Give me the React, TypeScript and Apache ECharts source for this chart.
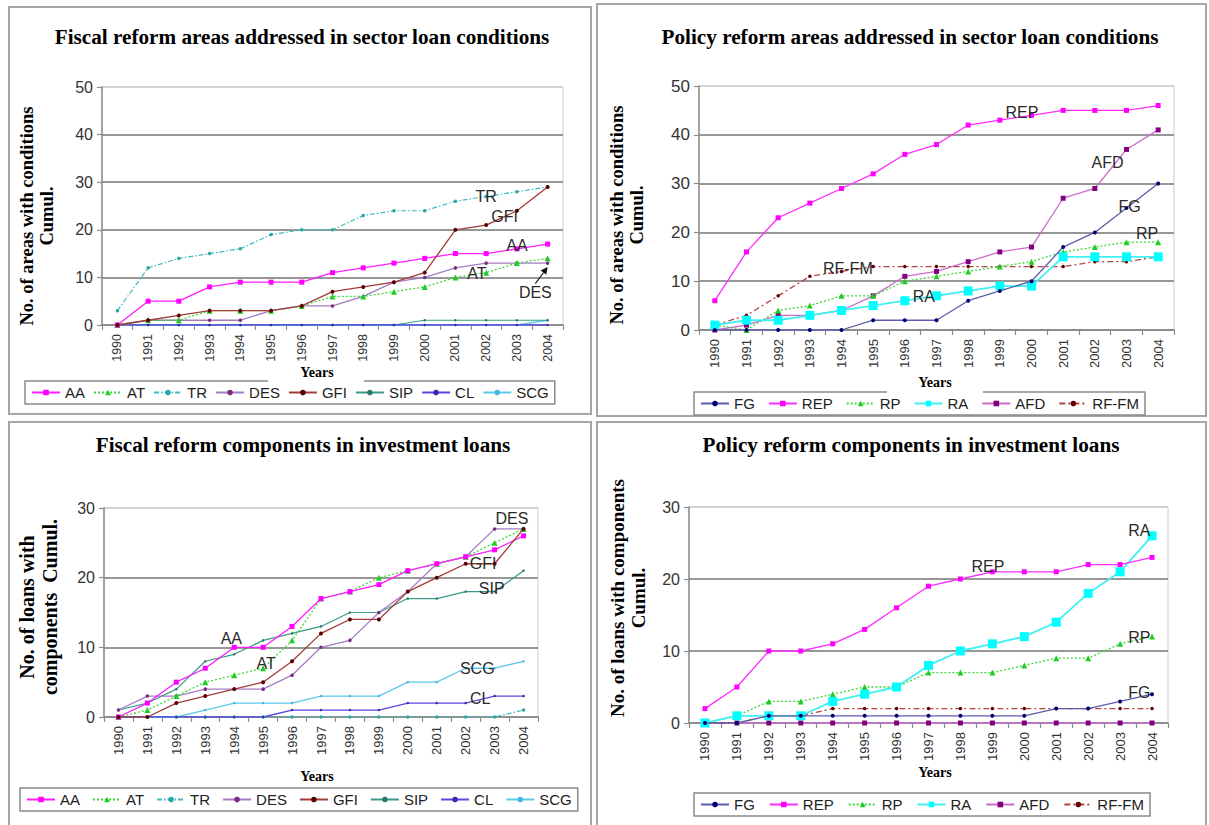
import React, { useEffect, useRef } from "react";
import * as echarts from "echarts";

const YEARS = ["1990", "1991", "1992", "1993", "1994", "1995", "1996", "1997", "1998", "1999", "2000", "2001", "2002", "2003", "2004"];

// Sector loan conditions — fiscal reform areas (cumulative counts)
const SECTOR_FISCAL_AA = [0, 5, 5, 8, 9, 9, 9, 11, 12, 13, 14, 15, 15, 16, 17];
const SECTOR_FISCAL_AT = [0, 1, 1, 3, 3, 3, 4, 6, 6, 7, 8, 10, 11, 13, 14];
const SECTOR_FISCAL_TR = [3, 12, 14, 15, 16, 19, 20, 20, 23, 24, 24, 26, 27, 28, 29];
const SECTOR_FISCAL_DES = [0, 1, 1, 1, 1, 3, 4, 4, 6, 9, 10, 12, 13, 13, 13];
const SECTOR_FISCAL_GFI = [0, 1, 2, 3, 3, 3, 4, 7, 8, 9, 11, 20, 21, 24, 29];
const SECTOR_FISCAL_SIP = [0, 0, 0, 0, 0, 0, 0, 0, 0, 0, 1, 1, 1, 1, 1];
const SECTOR_FISCAL_CL = [0, 0, 0, 0, 0, 0, 0, 0, 0, 0, 0, 0, 0, 0, 0];
const SECTOR_FISCAL_SCG = [0, 0, 0, 0, 0, 0, 0, 0, 0, 0, 0, 0, 0, 0, 1];

// Sector loan conditions — policy reform areas (cumulative counts)
const SECTOR_POLICY_FG = [0, 0, 0, 0, 0, 2, 2, 2, 6, 8, 10, 17, 20, 25, 30];
const SECTOR_POLICY_REP = [6, 16, 23, 26, 29, 32, 36, 38, 42, 43, 44, 45, 45, 45, 46];
const SECTOR_POLICY_RP = [1, 0, 4, 5, 7, 7, 10, 11, 12, 13, 14, 16, 17, 18, 18];
const SECTOR_POLICY_RA = [1, 2, 2, 3, 4, 5, 6, 7, 8, 9, 9, 15, 15, 15, 15];
const SECTOR_POLICY_AFD = [0, 1, 3, 3, 4, 7, 11, 12, 14, 16, 17, 27, 29, 37, 41];
const SECTOR_POLICY_RFFM = [1, 3, 7, 11, 12, 13, 13, 13, 13, 13, 13, 13, 14, 14, 15];

// Investment loans — fiscal reform components (cumulative counts)
const INVEST_FISCAL_AA = [0, 2, 5, 7, 10, 10, 13, 17, 18, 19, 21, 22, 23, 24, 26];
const INVEST_FISCAL_AT = [0, 1, 3, 5, 6, 7, 11, 17, 18, 20, 21, 22, 23, 25, 27];
const INVEST_FISCAL_TR = [0, 0, 0, 0, 0, 0, 0, 0, 0, 0, 0, 0, 0, 0, 1];
const INVEST_FISCAL_DES = [1, 3, 3, 4, 4, 4, 6, 10, 11, 15, 18, 22, 23, 27, 27];
const INVEST_FISCAL_GFI = [0, 0, 2, 3, 4, 5, 8, 12, 14, 14, 18, 20, 22, 22, 27];
const INVEST_FISCAL_SIP = [1, 2, 4, 8, 9, 11, 12, 13, 15, 15, 17, 17, 18, 18, 21];
const INVEST_FISCAL_CL = [0, 0, 0, 0, 0, 0, 1, 1, 1, 1, 2, 2, 2, 3, 3];
const INVEST_FISCAL_SCG = [0, 0, 0, 1, 2, 2, 2, 3, 3, 3, 5, 5, 7, 7, 8];

// Investment loans — policy reform components (cumulative counts)
const INVEST_POLICY_FG = [0, 0, 1, 1, 1, 1, 1, 1, 1, 1, 1, 2, 2, 3, 4];
const INVEST_POLICY_REP = [2, 5, 10, 10, 11, 13, 16, 19, 20, 21, 21, 21, 22, 22, 23];
const INVEST_POLICY_RP = [0, 1, 3, 3, 4, 5, 5, 7, 7, 7, 8, 9, 9, 11, 12];
const INVEST_POLICY_RA = [0, 1, 1, 1, 3, 4, 5, 8, 10, 11, 12, 14, 18, 21, 26];
const INVEST_POLICY_AFD = [0, 0, 0, 0, 0, 0, 0, 0, 0, 0, 0, 0, 0, 0, 0];
const INVEST_POLICY_RFFM = [0, 0, 1, 1, 2, 2, 2, 2, 2, 2, 2, 2, 2, 2, 2];

const SANS = '"Liberation Sans", Arial, Helvetica, sans-serif';
const SERIF = '"Liberation Serif", "Times New Roman", Times, serif';

type Look = { line: string; marker: string; symbol: string; size: number; dash: any; width: number; z: number };

// Excel-like look of each reform series
const LOOK: Record<string, Look> = {
  AA: { line: "#ff1cff", marker: "#ff00ff", symbol: "rect", size: 5, dash: "solid", width: 1.3, z: 6 },
  AT: { line: "#3ad83a", marker: "#22cc22", symbol: "triangle", size: 6, dash: [2, 2], width: 1.3, z: 5 },
  TR: { line: "#3cbcbc", marker: "#2aa8a8", symbol: "circle", size: 3.5, dash: [5, 2, 1.5, 2], width: 1.2, z: 3 },
  DES: { line: "#a47cc4", marker: "#7a2a80", symbol: "circle", size: 3.5, dash: "solid", width: 1.3, z: 4 },
  GFI: { line: "#a23a3a", marker: "#5a0000", symbol: "circle", size: 4, dash: "solid", width: 1.3, z: 7 },
  SIP: { line: "#3a9a88", marker: "#2a7a6a", symbol: "circle", size: 2.5, dash: "solid", width: 1.2, z: 3 },
  CL: { line: "#5a46e0", marker: "#3a2aa8", symbol: "circle", size: 2.5, dash: "solid", width: 1.3, z: 3 },
  SCG: { line: "#5cc8ee", marker: "#44b8e0", symbol: "circle", size: 2.5, dash: "solid", width: 1.3, z: 2 },
  FG: { line: "#5c5cac", marker: "#000070", symbol: "circle", size: 4, dash: "solid", width: 1.3, z: 7 },
  REP: { line: "#ff2cff", marker: "#ff00ff", symbol: "rect", size: 5, dash: "solid", width: 1.3, z: 6 },
  RP: { line: "#3ad83a", marker: "#22cc22", symbol: "triangle", size: 6, dash: [2, 2], width: 1.3, z: 4 },
  RA: { line: "#40f0f0", marker: "#00ffff", symbol: "rect", size: 9, dash: "solid", width: 1.8, z: 5 },
  AFD: { line: "#cc6acc", marker: "#800080", symbol: "rect", size: 5, dash: "solid", width: 1.3, z: 3 },
  "RF-FM": { line: "#b04444", marker: "#600000", symbol: "circle", size: 3.5, dash: [6, 3, 2, 3], width: 1.3, z: 3 },
};

type Note = { text: string; at: [number, number] };
type Panel = {
  frame: [number, number, number, number];
  plot: [number, number, number, number];
  yMax: number;
  title: string;
  titleAt: [number, number];
  titleSize: number;
  yName: string[];
  yNameX: number[];
  yNameY: number;
  yNameSize: number;
  yearsAt: [number, number];
  yearsGap?: [number, number, number, number];
  legendAt: [number, number];
  legendGap: number;
  xFont: number;
  yFont: number;
  series: { name: string; data: number[] }[];
  notes: Note[];
  arrow?: { from: [number, number]; to: [number, number] };
};

const PANELS: Panel[] = [
  {
    frame: [8, 6, 584, 409],
    plot: [102, 87, 563, 325],
    yMax: 50,
    title: "Fiscal reform areas addressed in sector loan conditions",
    titleAt: [302, 37],
    titleSize: 21.2,
    yName: ["No. of areas with conditions", "Cumul."],
    yNameX: [27, 47],
    yNameY: 216,
    yNameSize: 18.5,
    yearsAt: [317, 372],
    yearsGap: [268, 364, 366, 386],
    legendAt: [25, 381],
    legendGap: 8,
    xFont: 12.5,
    yFont: 16,
    series: [
      { name: "AA", data: SECTOR_FISCAL_AA },
      { name: "AT", data: SECTOR_FISCAL_AT },
      { name: "TR", data: SECTOR_FISCAL_TR },
      { name: "DES", data: SECTOR_FISCAL_DES },
      { name: "GFI", data: SECTOR_FISCAL_GFI },
      { name: "SIP", data: SECTOR_FISCAL_SIP },
      { name: "CL", data: SECTOR_FISCAL_CL },
      { name: "SCG", data: SECTOR_FISCAL_SCG },
    ],
    notes: [
      { text: "TR", at: [12.0, 27.1] },
      { text: "GFI", at: [12.6, 22.7] },
      { text: "AA", at: [13.0, 16.8] },
      { text: "AT", at: [11.7, 10.9] },
      { text: "DES", at: [13.6, 6.9] },
    ],
    arrow: { from: [13.6, 8.7], to: [14.0, 12.2] },
  },
  {
    frame: [596, 3, 611, 414],
    plot: [699, 86, 1174, 330],
    yMax: 50,
    title: "Policy reform areas addressed in sector loan conditions",
    titleAt: [910, 37],
    titleSize: 21.2,
    yName: ["No. of areas with conditions", "Cumul."],
    yNameX: [617, 637],
    yNameY: 215,
    yNameSize: 18.5,
    yearsAt: [935, 382],
    yearsGap: [887, 983, 372, 395],
    legendAt: [694, 392],
    legendGap: 13,
    xFont: 13,
    yFont: 17,
    series: [
      { name: "FG", data: SECTOR_POLICY_FG },
      { name: "REP", data: SECTOR_POLICY_REP },
      { name: "RP", data: SECTOR_POLICY_RP },
      { name: "RA", data: SECTOR_POLICY_RA },
      { name: "AFD", data: SECTOR_POLICY_AFD },
      { name: "RF-FM", data: SECTOR_POLICY_RFFM },
    ],
    notes: [
      { text: "REP", at: [9.7, 44.5] },
      { text: "AFD", at: [12.4, 34.4] },
      { text: "FG", at: [13.1, 25.4] },
      { text: "RP", at: [13.65, 19.7] },
      { text: "RF-FM", at: [4.2, 12.7] },
      { text: "RA", at: [6.6, 6.8] },
    ],
  },
  {
    frame: [8, 421, 584, 410],
    plot: [104, 508, 538, 717],
    yMax: 30,
    title: "Fiscal reform components in investment loans",
    titleAt: [303, 445],
    titleSize: 21.2,
    yName: ["No. of loans with", "components  Cumul."],
    yNameX: [27, 50],
    yNameY: 607,
    yNameSize: 20,
    yearsAt: [317, 776],
    legendAt: [20, 788],
    legendGap: 12,
    xFont: 13,
    yFont: 16,
    series: [
      { name: "AA", data: INVEST_FISCAL_AA },
      { name: "AT", data: INVEST_FISCAL_AT },
      { name: "TR", data: INVEST_FISCAL_TR },
      { name: "DES", data: INVEST_FISCAL_DES },
      { name: "GFI", data: INVEST_FISCAL_GFI },
      { name: "SIP", data: INVEST_FISCAL_SIP },
      { name: "CL", data: INVEST_FISCAL_CL },
      { name: "SCG", data: INVEST_FISCAL_SCG },
    ],
    notes: [
      { text: "AA", at: [3.9, 11.2] },
      { text: "AT", at: [5.1, 7.7] },
      { text: "DES", at: [13.6, 28.5] },
      { text: "GFI", at: [12.6, 22.0] },
      { text: "SIP", at: [12.9, 18.4] },
      { text: "SCG", at: [12.4, 7.0] },
      { text: "CL", at: [12.5, 2.7] },
    ],
  },
  {
    frame: [596, 421, 611, 410],
    plot: [689, 507, 1168, 723],
    yMax: 30,
    title: "Policy reform components in investment loans",
    titleAt: [911, 445],
    titleSize: 21.2,
    yName: ["No. of loans with components", "Cumul."],
    yNameX: [617, 638],
    yNameY: 598,
    yNameSize: 19,
    yearsAt: [935, 772],
    legendAt: [694, 793],
    legendGap: 14,
    xFont: 13,
    yFont: 16,
    series: [
      { name: "FG", data: INVEST_POLICY_FG },
      { name: "REP", data: INVEST_POLICY_REP },
      { name: "RP", data: INVEST_POLICY_RP },
      { name: "RA", data: INVEST_POLICY_RA },
      { name: "AFD", data: INVEST_POLICY_AFD },
      { name: "RF-FM", data: INVEST_POLICY_RFFM },
    ],
    notes: [
      { text: "RA", at: [13.6, 26.7] },
      { text: "REP", at: [8.86, 21.7] },
      { text: "RP", at: [13.6, 11.9] },
      { text: "FG", at: [13.6, 4.2] },
    ],
  },
];

function buildSeries(name: string, data: number[]) {
  const lk = LOOK[name];
  return {
    type: "line",
    name,
    data,
    symbol: lk.symbol,
    symbolSize: lk.size,
    showAllSymbol: true,
    lineStyle: { color: lk.line, width: lk.width, type: lk.dash },
    itemStyle: { color: lk.marker, borderWidth: 0 },
    emphasis: { disabled: true },
    silent: true,
    z: lk.z,
  };
}

function PanelChart({ p }: { p: Panel }) {
  const ref = useRef<HTMLDivElement>(null);

  useEffect(() => {
    if (!ref.current) return;
    const chart = echarts.init(ref.current, undefined, { renderer: "svg" });
    const [fx, fy] = p.frame;
    const [x0, y0, x1, y1] = p.plot;
    const steps = p.yMax / 10;
    const splitColors: string[] = [];
    for (let i = 0; i < steps; i++) splitColors.push("#979797");
    splitColors.push("#d2d2d2");

    chart.setOption({
      animation: false,
      backgroundColor: "transparent",
      grid: {
        left: x0 - fx,
        top: y0 - fy,
        width: x1 - x0,
        height: y1 - y0,
        show: true,
        borderColor: "#cfcfcf",
        borderWidth: 1,
        backgroundColor: "transparent",
        containLabel: false,
        outerBoundsMode: "none",
      },
      xAxis: {
        type: "category",
        data: YEARS,
        boundaryGap: true,
        axisLine: { show: true, lineStyle: { color: "#8c8c8c", width: 1.5 } },
        axisTick: { show: true, length: 5, inside: false, lineStyle: { color: "#8c8c8c", width: 1.2 } },
        axisLabel: { rotate: 90, fontSize: p.xFont, color: "#333", fontFamily: SANS, margin: 9, interval: 0 },
        splitLine: { show: false },
      },
      yAxis: {
        type: "value",
        min: 0,
        max: p.yMax,
        interval: 10,
        axisLine: { show: true, lineStyle: { color: "#8c8c8c", width: 1.5 } },
        axisTick: { show: true, length: 5, lineStyle: { color: "#8c8c8c", width: 1.2 } },
        axisLabel: { fontSize: p.yFont, color: "#333", fontFamily: SANS, margin: 9 },
        splitLine: { show: true, lineStyle: { color: splitColors, width: 2 } },
      },
      legend: {
        data: p.series.map((s) => s.name),
        left: p.legendAt[0] - fx,
        top: p.legendAt[1] - fy,
        orient: "horizontal",
        itemWidth: 28,
        itemHeight: 7,
        itemGap: p.legendGap,
        padding: [4, 6],
        borderColor: "#8a8a8a",
        borderWidth: 1.5,
        borderRadius: 0,
        selectedMode: false,
        textStyle: { fontSize: 15, fontFamily: SANS, color: "#222" },
      },
      series: p.series.map((s) => buildSeries(s.name, s.data)),
    });

    // Data-anchored annotation positions
    const origin = chart.convertToPixel({ gridIndex: 0 }, [0, 0]) as number[];
    const next = chart.convertToPixel({ gridIndex: 0 }, [1, 0]) as number[];
    const step = next[0] - origin[0];
    const toPx = (xi: number, v: number): [number, number] => {
      const py = (chart.convertToPixel({ gridIndex: 0 }, [0, v]) as number[])[1];
      return [origin[0] + xi * step, py];
    };

    const graphics: any[] = [];

    graphics.push({
      type: "text",
      x: p.titleAt[0] - fx,
      y: p.titleAt[1] - fy,
      z: 50,
      style: {
        text: p.title,
        fontFamily: SERIF,
        fontWeight: "bold",
        fontSize: p.titleSize,
        fill: "#000",
        align: "center",
        verticalAlign: "middle",
      },
    });

    p.yName.forEach((line, i) => {
      graphics.push({
        type: "text",
        x: p.yNameX[i] - fx,
        y: p.yNameY - fy,
        rotation: Math.PI / 2,
        z: 50,
        style: {
          text: line,
          fontFamily: SERIF,
          fontWeight: "bold",
          fontSize: p.yNameSize,
          fill: "#000",
          align: "center",
          verticalAlign: "middle",
        },
      });
    });

    if (p.yearsGap) {
      const [gx0, gx1, gy0, gy1] = p.yearsGap;
      graphics.push({
        type: "rect",
        z: 40,
        shape: { x: gx0 - fx, y: gy0 - fy, width: gx1 - gx0, height: gy1 - gy0 },
        style: { fill: "#fff" },
      });
    }
    graphics.push({
      type: "text",
      x: p.yearsAt[0] - fx,
      y: p.yearsAt[1] - fy,
      z: 50,
      style: {
        text: "Years",
        fontFamily: SERIF,
        fontWeight: "bold",
        fontSize: 14,
        fill: "#000",
        align: "center",
        verticalAlign: "middle",
      },
    });

    p.notes.forEach((n) => {
      const [nx, ny] = toPx(n.at[0], n.at[1]);
      graphics.push({
        type: "text",
        x: nx,
        y: ny,
        z: 50,
        style: {
          text: n.text,
          fontFamily: SANS,
          fontSize: 16,
          fill: "#2a2a2a",
          align: "center",
          verticalAlign: "middle",
        },
      });
    });

    if (p.arrow) {
      const [ax, ay] = toPx(p.arrow.from[0], p.arrow.from[1]);
      const [bx, by] = toPx(p.arrow.to[0], p.arrow.to[1]);
      const ang = Math.atan2(by - ay, bx - ax);
      const hl = 7;
      const hw = 3.5;
      const baseX = bx - hl * Math.cos(ang);
      const baseY = by - hl * Math.sin(ang);
      graphics.push({
        type: "line",
        z: 50,
        shape: { x1: ax, y1: ay, x2: baseX, y2: baseY },
        style: { stroke: "#222", lineWidth: 1.2 },
      });
      graphics.push({
        type: "polygon",
        z: 50,
        shape: {
          points: [
            [bx, by],
            [baseX + hw * Math.sin(ang), baseY - hw * Math.cos(ang)],
            [baseX - hw * Math.sin(ang), baseY + hw * Math.cos(ang)],
          ],
        },
        style: { fill: "#111" },
      });
    }

    chart.setOption({ graphic: graphics });

    return () => {
      chart.dispose();
    };
  }, [p]);

  const [fx, fy, fw, fh] = p.frame;
  return (
    <div
      ref={ref}
      style={{
        position: "absolute",
        left: fx,
        top: fy,
        width: fw,
        height: fh,
        outline: "2px solid #a6a6a6",
        outlineOffset: -2,
      }}
    />
  );
}

export default function App() {
  return (
    <div
      style={{
        position: "fixed",
        left: 0,
        top: 0,
        width: 1209,
        height: 825,
        overflow: "hidden",
        background: "#fff",
      }}
    >
      {PANELS.map((p, i) => (
        <PanelChart key={i} p={p} />
      ))}
    </div>
  );
}
